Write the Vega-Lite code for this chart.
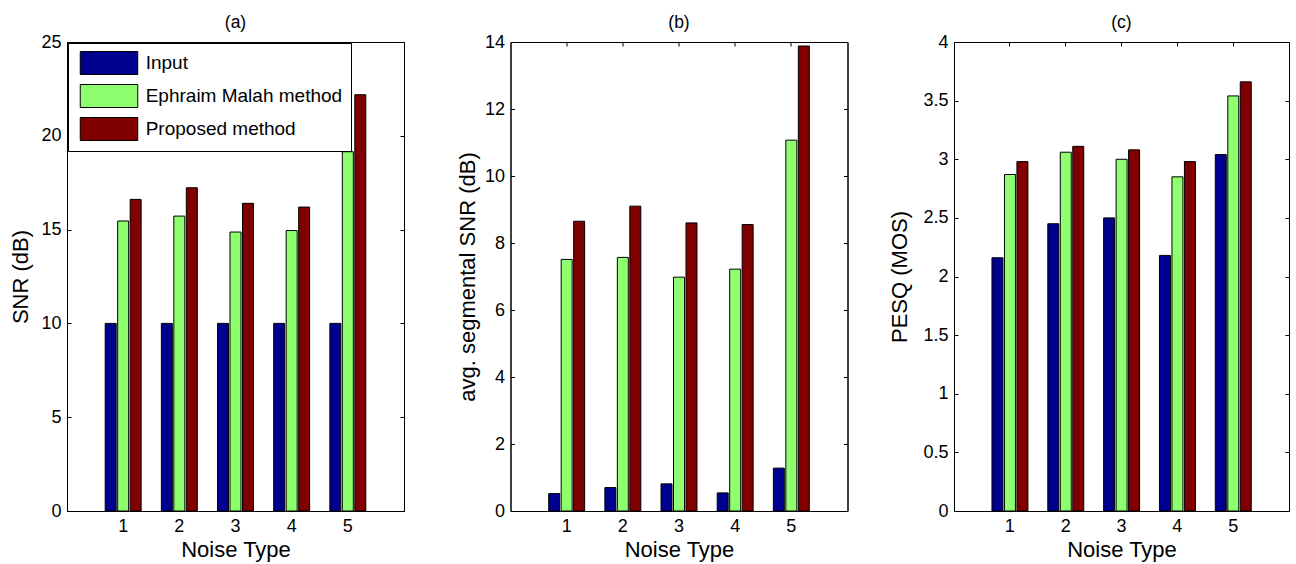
{
  "$schema": "https://vega.github.io/schema/vega-lite/v6.json",
  "padding": {"left": 9, "top": 13, "right": 2, "bottom": 2},
  "background": "white",
  "config": {
    "font": "Liberation Sans",
    "view": {"stroke": "black", "strokeWidth": 1},
    "axis": {"grid": false, "domainColor": "black", "tickColor": "black", "labelColor": "black", "titleColor": "black", "labelFont": "Liberation Sans", "titleFont": "Liberation Sans", "labelFontSize": 18, "titleFontSize": 22, "titleFontWeight": "normal", "tickSize": -4, "labelPadding": 10},
    "title": {"font": "Liberation Sans", "fontSize": 17.5, "fontWeight": "normal", "color": "black", "offset": 2}
  },
  "datasets": {
    "d": [
      {"panel": "a", "noise": "1", "method": "Input", "value": 10},
      {"panel": "a", "noise": "2", "method": "Input", "value": 10},
      {"panel": "a", "noise": "3", "method": "Input", "value": 10},
      {"panel": "a", "noise": "4", "method": "Input", "value": 10},
      {"panel": "a", "noise": "5", "method": "Input", "value": 10},
      {"panel": "a", "noise": "1", "method": "Ephraim Malah method", "value": 15.46},
      {"panel": "a", "noise": "2", "method": "Ephraim Malah method", "value": 15.72},
      {"panel": "a", "noise": "3", "method": "Ephraim Malah method", "value": 14.87},
      {"panel": "a", "noise": "4", "method": "Ephraim Malah method", "value": 14.95},
      {"panel": "a", "noise": "5", "method": "Ephraim Malah method", "value": 19.15},
      {"panel": "a", "noise": "1", "method": "Proposed method", "value": 16.61},
      {"panel": "a", "noise": "2", "method": "Proposed method", "value": 17.23},
      {"panel": "a", "noise": "3", "method": "Proposed method", "value": 16.4},
      {"panel": "a", "noise": "4", "method": "Proposed method", "value": 16.2},
      {"panel": "a", "noise": "5", "method": "Proposed method", "value": 22.19},
      {"panel": "b", "noise": "1", "method": "Input", "value": 0.52},
      {"panel": "b", "noise": "2", "method": "Input", "value": 0.7},
      {"panel": "b", "noise": "3", "method": "Input", "value": 0.81},
      {"panel": "b", "noise": "4", "method": "Input", "value": 0.54},
      {"panel": "b", "noise": "5", "method": "Input", "value": 1.28},
      {"panel": "b", "noise": "1", "method": "Ephraim Malah method", "value": 7.51},
      {"panel": "b", "noise": "2", "method": "Ephraim Malah method", "value": 7.57},
      {"panel": "b", "noise": "3", "method": "Ephraim Malah method", "value": 6.98},
      {"panel": "b", "noise": "4", "method": "Ephraim Malah method", "value": 7.22},
      {"panel": "b", "noise": "5", "method": "Ephraim Malah method", "value": 11.07},
      {"panel": "b", "noise": "1", "method": "Proposed method", "value": 8.65},
      {"panel": "b", "noise": "2", "method": "Proposed method", "value": 9.1},
      {"panel": "b", "noise": "3", "method": "Proposed method", "value": 8.6},
      {"panel": "b", "noise": "4", "method": "Proposed method", "value": 8.55},
      {"panel": "b", "noise": "5", "method": "Proposed method", "value": 13.88},
      {"panel": "c", "noise": "1", "method": "Input", "value": 2.16},
      {"panel": "c", "noise": "2", "method": "Input", "value": 2.45},
      {"panel": "c", "noise": "3", "method": "Input", "value": 2.5},
      {"panel": "c", "noise": "4", "method": "Input", "value": 2.18},
      {"panel": "c", "noise": "5", "method": "Input", "value": 3.04},
      {"panel": "c", "noise": "1", "method": "Ephraim Malah method", "value": 2.87},
      {"panel": "c", "noise": "2", "method": "Ephraim Malah method", "value": 3.06},
      {"panel": "c", "noise": "3", "method": "Ephraim Malah method", "value": 3.0},
      {"panel": "c", "noise": "4", "method": "Ephraim Malah method", "value": 2.85},
      {"panel": "c", "noise": "5", "method": "Ephraim Malah method", "value": 3.54},
      {"panel": "c", "noise": "1", "method": "Proposed method", "value": 2.98},
      {"panel": "c", "noise": "2", "method": "Proposed method", "value": 3.11},
      {"panel": "c", "noise": "3", "method": "Proposed method", "value": 3.08},
      {"panel": "c", "noise": "4", "method": "Proposed method", "value": 2.98},
      {"panel": "c", "noise": "5", "method": "Proposed method", "value": 3.66}
    ]
  },
  "data": {"name": "d"},
  "spacing": 106.5,
  "bounds": "flush",
  "resolve": {"scale": {"color": "independent"}},
  "hconcat": [
    {
      "width": 337, "height": 469,
      "title": "(a)",
      "transform": [{"filter": "datum.panel == 'a'"}],
      "encoding": {
        "x": {"field": "noise", "type": "nominal", "scale": {"domain": ["1","2","3","4","5"], "paddingInner": 0.36, "paddingOuter": 0.68}, "title": "Noise Type"},
        "xOffset": {"field": "method", "type": "nominal", "scale": {"domain": ["Input", "Ephraim Malah method", "Proposed method"], "paddingInner": 0.12, "paddingOuter": 0}},
        "y": {"field": "value", "type": "quantitative", "scale": {"domain": [0, 25], "nice": false}, "title": "SNR (dB)"}
      },
      "layer": [
        {
          "mark": {"type": "bar", "stroke": "black", "strokeWidth": 1},
          "encoding": {
            "x": {"field": "noise", "type": "nominal", "axis": {"orient": "bottom", "labelAngle": 0}, "title": "Noise Type"},
            "y": {"field": "value", "type": "quantitative", "axis": {"orient": "left", "values": [0,5,10,15,20,25], "titlePadding": 8}, "title": "SNR (dB)"},
            "color": {"field": "method", "type": "nominal", "scale": {"domain": ["Input", "Ephraim Malah method", "Proposed method"], "range": ["#00008F", "#8FFF70", "#800000"]},
              "legend": {"orient": "none", "legendX": 1, "legendY": 1, "title": null, "symbolType": "M-2.5,-1H2.5V1H-2.5Z", "symbolSize": 529, "symbolOffset": 21, "symbolStrokeColor": "black", "symbolStrokeWidth": 1, "symbolOpacity": 1, "labelFontSize": 19, "labelColor": "black", "strokeColor": "black", "fillColor": "white", "padding": 8, "rowPadding": 5, "labelOffset": 24.7, "labelLimit": 400}}
          }
        },
        {
          "mark": {"type": "bar", "opacity": 0},
          "encoding": {
            "x": {"field": "noise", "type": "nominal", "axis": {"orient": "top", "labels": false, "title": null}},
            "y": {"field": "value", "type": "quantitative", "axis": {"orient": "right", "labels": false, "title": null, "values": [0,5,10,15,20,25]}}
          }
        }
      ],
      "resolve": {"axis": {"x": "independent", "y": "independent"}}
    },
    {
      "width": 337, "height": 469,
      "title": "(b)",
      "transform": [{"filter": "datum.panel == 'b'"}],
      "encoding": {
        "x": {"field": "noise", "type": "nominal", "scale": {"domain": ["1","2","3","4","5"], "paddingInner": 0.36, "paddingOuter": 0.68}, "title": "Noise Type"},
        "xOffset": {"field": "method", "type": "nominal", "scale": {"domain": ["Input", "Ephraim Malah method", "Proposed method"], "paddingInner": 0.12, "paddingOuter": 0}},
        "y": {"field": "value", "type": "quantitative", "scale": {"domain": [0, 14], "nice": false}, "title": "avg. segmental SNR (dB)"}
      },
      "layer": [
        {
          "mark": {"type": "bar", "stroke": "black", "strokeWidth": 1},
          "encoding": {
            "x": {"field": "noise", "type": "nominal", "axis": {"orient": "bottom", "labelAngle": 0}, "title": "Noise Type"},
            "y": {"field": "value", "type": "quantitative", "axis": {"orient": "left", "values": [0,2,4,6,8,10,12,14], "titlePadding": 4.5}, "title": "avg. segmental SNR (dB)"},
            "color": {"field": "method", "type": "nominal", "scale": {"domain": ["Input", "Ephraim Malah method", "Proposed method"], "range": ["#00008F", "#8FFF70", "#800000"]}, "legend": null}
          }
        },
        {
          "mark": {"type": "bar", "opacity": 0},
          "encoding": {
            "x": {"field": "noise", "type": "nominal", "axis": {"orient": "top", "labels": false, "title": null}},
            "y": {"field": "value", "type": "quantitative", "axis": {"orient": "right", "labels": false, "title": null, "values": [0,2,4,6,8,10,12,14]}}
          }
        }
      ],
      "resolve": {"axis": {"x": "independent", "y": "independent"}}
    },
    {
      "width": 335, "height": 469,
      "title": "(c)",
      "transform": [{"filter": "datum.panel == 'c'"}],
      "encoding": {
        "x": {"field": "noise", "type": "nominal", "scale": {"domain": ["1","2","3","4","5"], "paddingInner": 0.36, "paddingOuter": 0.68}, "title": "Noise Type"},
        "xOffset": {"field": "method", "type": "nominal", "scale": {"domain": ["Input", "Ephraim Malah method", "Proposed method"], "paddingInner": 0.12, "paddingOuter": 0}},
        "y": {"field": "value", "type": "quantitative", "scale": {"domain": [0, 4], "nice": false}, "title": "PESQ (MOS)"}
      },
      "layer": [
        {
          "mark": {"type": "bar", "stroke": "black", "strokeWidth": 1},
          "encoding": {
            "x": {"field": "noise", "type": "nominal", "axis": {"orient": "bottom", "labelAngle": 0}, "title": "Noise Type"},
            "y": {"field": "value", "type": "quantitative", "axis": {"orient": "left", "values": [0,0.5,1,1.5,2,2.5,3,3.5,4], "format": "~g", "titlePadding": 11.5}, "title": "PESQ (MOS)"},
            "color": {"field": "method", "type": "nominal", "scale": {"domain": ["Input", "Ephraim Malah method", "Proposed method"], "range": ["#00008F", "#8FFF70", "#800000"]}, "legend": null}
          }
        },
        {
          "mark": {"type": "bar", "opacity": 0},
          "encoding": {
            "x": {"field": "noise", "type": "nominal", "axis": {"orient": "top", "labels": false, "title": null}},
            "y": {"field": "value", "type": "quantitative", "axis": {"orient": "right", "labels": false, "title": null, "values": [0,0.5,1,1.5,2,2.5,3,3.5,4]}}
          }
        }
      ],
      "resolve": {"axis": {"x": "independent", "y": "independent"}}
    }
  ]
}
